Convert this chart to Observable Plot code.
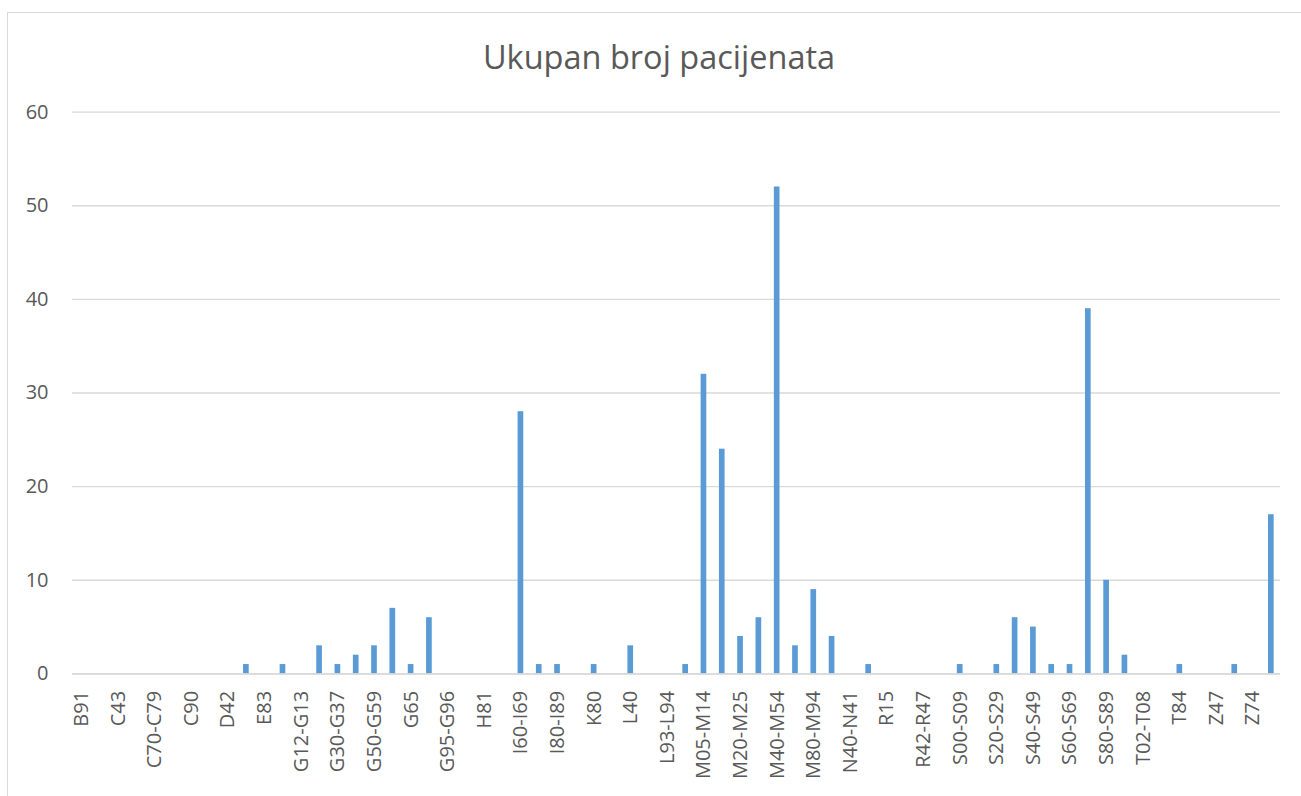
<!DOCTYPE html>
<html><head><meta charset="utf-8">
<script src="https://cdn.jsdelivr.net/npm/d3@7"></script>
<script src="https://cdn.jsdelivr.net/npm/@observablehq/plot@0.6"></script>
<style>
html,body{margin:0;padding:0;background:#fff;overflow:hidden;}
#frame{position:absolute;left:7px;top:12px;width:1400px;height:900px;border-left:1.5px solid #d9d9d9;border-top:1.5px solid #d9d9d9;}
#title{position:absolute;left:0;width:1318px;top:34px;text-align:center;font-family:"Open Sans",sans-serif;font-size:32.5px;color:#595959;white-space:nowrap;}
#chart{position:absolute;left:0;top:0;}
</style></head><body>
<div id="frame"></div>
<div id="chart"></div>
<div id="title">Ukupan broj pacijenata</div>
<script>
const categories = ["B91","C34","C43","C50","C70-C79","C81","C90","D36","D42","E11","E83","F32",
  "G12-G13","G20-G26","G30-G37","G40-G47","G50-G59","G60-G64","G65","G70-G73","G95-G96","H40","H81","I10-I15",
  "I60-I69","I70-I79","I80-I89","J40-J47","K80","L20-L30","L40","L89","L93-L94","M00-M03","M05-M14","M15-M19",
  "M20-M25","M30-M36","M40-M54","M60-M79","M80-M94","M95-M99","N40-N41","Q65","R15","R26","R42-R47","R52",
  "S00-S09","S10-S19","S20-S29","S30-S39","S40-S49","S50-S59","S60-S69","S70-S79","S80-S89","S90-S99",
  "T02-T08","T14","T84","T90-T98","Z47","Z50","Z74","Z96"];
const values = [0,0,0,0,0,0,0,0,0,1,0,1,
  0,3,1,2,3,7,1,6,0,0,0,0,
  28,1,1,0,1,0,3,0,0,1,32,24,
  4,6,52,3,9,4,0,1,0,0,0,0,
  1,0,1,6,5,1,1,39,10,2,
  0,0,1,0,0,1,0,17];
const yTicks = [0,10,20,30,40,50,60];
const labeledCategories = categories.filter((c, i) => i % 2 === 0);

const data = categories.map((code, i) => ({code, n: values[i]}));

const chart = Plot.plot({
  width: 1301,
  height: 796,
  marginLeft: 72,
  marginRight: 21,
  marginTop: 111.6,
  marginBottom: 122.6,
  style: {fontFamily: "'Open Sans', sans-serif", fontSize: "20px", color: "#595959", background: "transparent", overflow: "visible"},
  x: {domain: categories, paddingInner: 0.69, paddingOuter: 0.345, align: 0.5, round: false},
  y: {domain: [0, 60]},
  marks: [
    Plot.gridY(yTicks, {stroke: "#d9d9d9", strokeOpacity: 1, strokeWidth: 1.3}),
    Plot.axisY(yTicks, {tickSize: 0, tickPadding: 24, label: null, fill: "#595959", fontSize: 20}),
    Plot.axisX(labeledCategories, {tickSize: 0, tickPadding: 17, tickRotate: -90, label: null, fill: "#595959", fontSize: 20}),
    Plot.barY(data, {x: "code", y: "n", fill: "#5B9BD5"}),
    Plot.ruleY([0], {stroke: "#d9d9d9", strokeWidth: 1.5})
  ]
});
document.getElementById("chart").appendChild(chart);
</script>
</body></html>
